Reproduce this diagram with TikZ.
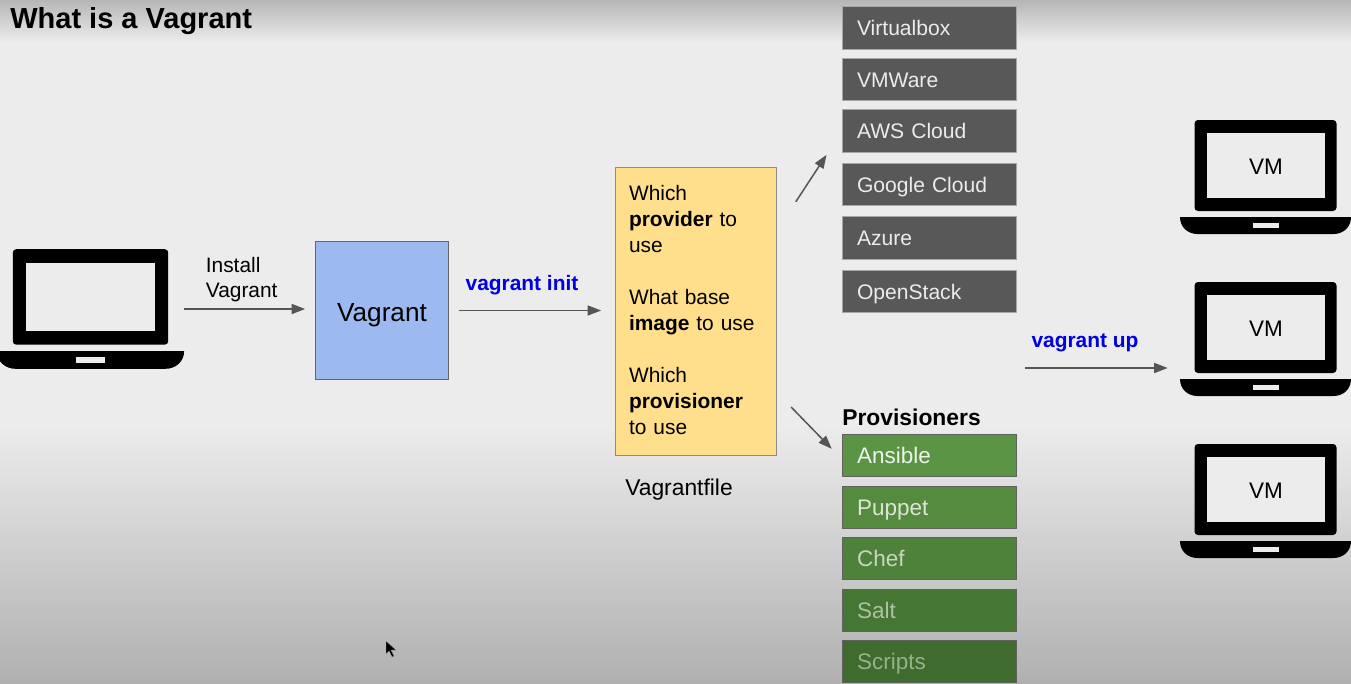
\documentclass[tikz,border=0pt]{standalone}
\usepackage{fontspec}
\setmainfont{Liberation Sans}
\usepackage{xcolor}
\definecolor{pagegrey}{RGB}{236,236,236}
\definecolor{pagedark}{RGB}{176,176,176}
\definecolor{topdark}{RGB}{182,182,182}
\definecolor{providergrey}{RGB}{88,88,88}
\definecolor{greentop}{RGB}{90,148,68}
\definecolor{greenbot}{RGB}{63,108,46}
\definecolor{greenfg}{RGB}{238,244,235}
\definecolor{greendim}{RGB}{150,176,140}
\definecolor{vagrantblue}{RGB}{156,186,240}
\definecolor{fileyellow}{RGB}{255,222,140}
\definecolor{arrgrey}{RGB}{85,85,85}
\usetikzlibrary{arrows.meta}
\tikzset{
  laptop/.pic={
    \fill[black, rounded corners=2pt] (-71,-57) rectangle (71,34);
    \fill[pagegrey] (-59,-44) rectangle (59,21);
    \fill[black] (-85.5,40) -- (85.5,40) .. controls (85.5,50) and (78,57) .. (68,57) -- (-68,57) .. controls (-78,57) and (-85.5,50) .. (-85.5,40) -- cycle;
    \fill[pagegrey] (-13,46) rectangle (13,51);
  }
}

\begin{document}
\begin{tikzpicture}[
  x=0.02cm, y=-0.02cm,
  provider/.style={rectangle, draw=black!35, fill=providergrey, text=white!92!black, minimum width=3.48cm, minimum height=0.85cm, text width=2.9cm, text height=8.7pt, text depth=0pt, align=left, inner sep=0pt, font=\fontsize{12}{14}\selectfont},
  prov/.style={rectangle, draw=black!62, fill=greentop!#1!greenbot, text=greenfg!#1!greendim, minimum width=3.48cm, minimum height=0.84cm, text width=2.9cm, text height=9.2pt, text depth=0pt, align=left, inner sep=0pt, font=\fontsize{12.8}{14}\selectfont},
  lbl/.style={inner sep=0pt, font=\fontsize{11.9}{14.2}\selectfont},
  cmd/.style={inner sep=0pt, text=blue!90!black, font=\fontsize{11.9}{14}\selectfont\bfseries},
  lapbox/.style={inner sep=0pt, minimum width=3.42cm, minimum height=2.28cm},
  arr/.style={-{Stealth[inset=0pt, length=0.27cm, width=0.2cm]}, line width=0.85pt, arrgrey}
]
  \useasboundingbox (0,0) rectangle (1351,683);
  % page background
  \fill[pagegrey] (0,0) rectangle (1351,683);
  \fill[top color=topdark, bottom color=pagegrey, draw=none] (0,0) rectangle (1351,42);
  \fill[top color=pagegrey, bottom color=pagedark, draw=none] (0,425) rectangle (1351,683);

  \node[anchor=west, inner sep=0pt, font=\fontsize{16.5}{18}\selectfont\bfseries] (title) at (10,21) {What is a Vagrant};

  % host laptop
  \node[lapbox, minimum width=3.74cm, minimum height=2.4cm] (host) at (90.5,309) {};
  \pic[xscale=1.095, yscale=1.05] at (host) {laptop};
  \node[lbl, anchor=west, align=left] (install) at (205.5,279.5) {Install\\Vagrant};

  \node[rectangle, draw=black!60, fill=vagrantblue, minimum width=2.66cm, minimum height=2.76cm, inner sep=0pt, text height=12.4pt, text depth=0pt, font=\fontsize{14.9}{17}\selectfont] (vagrant) at (382,310.5) {Vagrant};
  \node[cmd] (init) at (522,285) {vagrant init};

  % vagrantfile
  \node[rectangle, draw=black!45, fill=fileyellow, minimum width=3.22cm, minimum height=5.76cm, inner sep=0pt] (vfile) at (696,311.5) {};
  \node[text width=2.68cm, align=left, inner sep=0pt, font=\fontsize{11.9}{14.74}\selectfont] (vfiletext) at (696,310) {Which\\\textbf{provider} to\\use\\[14.74pt]What base\\\textbf{image} to use\\[14.74pt]Which\\\textbf{provisioner}\\to use};
  \node[inner sep=0pt, font=\fontsize{13}{15}\selectfont] (vfilename) at (679,490) {Vagrantfile};

  % providers
  \node[provider] (vbox) at (929.5,28) {Virtualbox};
  \node[provider] (vmware) at (929.5,79.5) {VMWare};
  \node[provider] (aws) at (929.5,131) {AWS Cloud};
  \node[provider] (gcloud) at (929.5,184.5) {Google Cloud};
  \node[provider] (azure) at (929.5,238) {Azure};
  \node[provider] (openstack) at (929.5,291.5) {OpenStack};

  % provisioners
  \node[anchor=west, inner sep=0pt, font=\fontsize{13}{15}\selectfont\bfseries] (provhead) at (842,417.5) {Provisioners};
  \node[prov=100] (ansible) at (929.5,455) {Ansible};
  \node[prov=78] (puppet) at (929.5,507) {Puppet};
  \node[prov=56] (chef) at (929.5,558.5) {Chef};
  \node[prov=26] (salt) at (929.5,610) {Salt};
  \node[prov=0] (scripts) at (929.5,661.5) {Scripts};

  % virtual machines
  \node[lapbox] (vma) at (1265.5,177) {};
  \node[lapbox] (vmb) at (1265.5,339) {};
  \node[lapbox] (vmc) at (1265.5,501) {};
  \pic at (vma) {laptop};
  \pic at (vmb) {laptop};
  \pic at (vmc) {laptop};
  \node[lbl, font=\fontsize{12.8}{15}\selectfont] (vmatext) at (1266,167) {VM};
  \node[lbl, font=\fontsize{12.8}{15}\selectfont] (vmbtext) at (1266,329) {VM};
  \node[lbl, font=\fontsize{12.8}{15}\selectfont] (vmctext) at (1266,491) {VM};
  \node[cmd] (up) at (1085,343) {vagrant up};
  \coordinate (upstart) at (1025,368);

  \draw[arr, shorten >=0.2cm] (host.east) -- (host.east -| vagrant.west);
  \draw[arr, shorten <=0.2cm, shorten >=0.28cm] (vagrant.east) -- (vagrant.east -| vfile.west);
  \draw[arr, shorten <=0.69cm, shorten >=0.57cm] (vfile.45) -- (aws.west);
  \draw[arr, shorten <=0.41cm, shorten >=0.3cm] (vfile.-45) -- (ansible.183);
  \draw[arr, shorten >=0.24cm] (upstart) -- (upstart -| vmb.west);

  % mouse pointer
  \fill[black, draw=black!35, line width=0.2pt] (386,641) -- (386,654) -- (389,651) -- (392,657) -- (394,656) -- (391,650) -- (396,650) -- cycle;
\end{tikzpicture}
\end{document}
